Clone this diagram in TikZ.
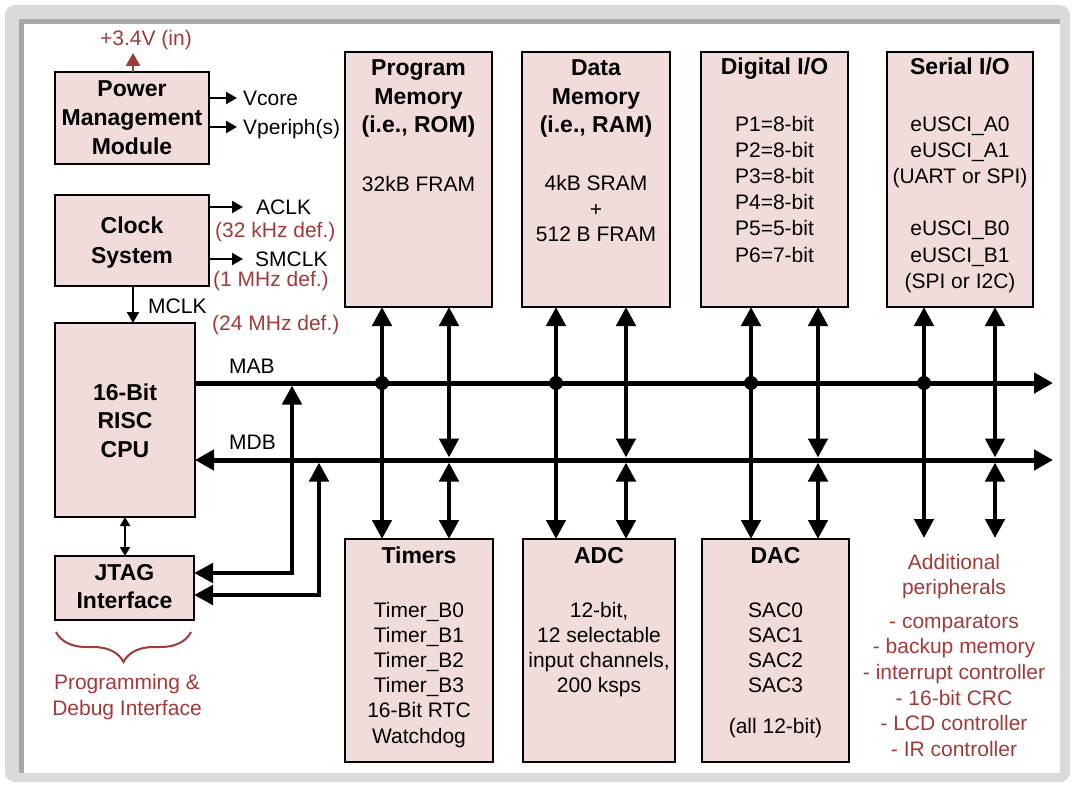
\documentclass[tikz,border=0pt]{standalone}
\usepackage{fontspec}
\setmainfont{Liberation Sans}
\usetikzlibrary{arrows.meta,decorations.pathreplacing}
\definecolor{boxfill}{HTML}{F2DCDB}
\definecolor{redtxt}{HTML}{A33A3A}
\definecolor{framegray}{HTML}{DADADA}
\definecolor{stripegray}{HTML}{A8A8A8}
\newcommand\mkbox[5]{\node[box, minimum width={(#4-#2)*1pt}, minimum height={(#5-#3)*1pt}] (#1) at ({(#2+#4)/2},{(#3+#5)/2}) {};}
\newcommand\mklines[6]{\foreach \ltext [count=\lnum from 0] in {#6} {\node[#5, anchor=base] (#1-\lnum) at (#2,{#3+\lnum*#4}) {\ltext};}}
\begin{document}
\begin{tikzpicture}[x=1pt,y=-1pt,
  box/.style={draw, line width=2.6pt, fill=boxfill, inner sep=0pt, outer sep=0pt},
  ttl/.style={font=\fontsize{23pt}{28pt}\selectfont\bfseries, inner sep=0pt},
  txt/.style={font=\fontsize{21pt}{25pt}\selectfont, inner sep=0pt},
  rtxt/.style={txt, text=redtxt},
  sarr/.style={line width=2.3pt, >={Triangle[length=11pt,width=12pt]}},
  redarr/.style={line width=2.5pt, draw=redtxt, >={Triangle[length=13pt,width=14pt]}},
  tinyarr/.style={line width=1.8pt, >={Triangle[length=9pt,width=10pt]}},
  busarr/.style={line width=4.6pt, >={Triangle[length=19pt,width=19pt]}},
  busline/.style={line width=5pt, >={Triangle[length=19pt,width=20pt]}},
  dot/.style={circle, fill, inner sep=0pt, minimum size=14pt}]
\useasboundingbox (0,0) rectangle (1073,786);
% frame
\fill[framegray, rounded corners=10pt] (5,5) rectangle (1070,782);
\fill[stripegray] (19,19) rectangle (1060,773);
\fill[white] (24,24) rectangle (1060,773);
% boxes
\mkbox{pwr}{55}{72}{209}{164}
\mkbox{clk}{55}{195}{209}{286}
\mkbox{cpu}{55}{323}{195}{517}
\mkbox{jtag}{55}{556}{194}{620}
\mkbox{pmem}{345}{52}{492}{307}
\mkbox{dmem}{522}{52}{670}{307}
\mkbox{dio}{701}{52}{848}{307}
\mkbox{sio}{887}{52}{1033}{307}
\mkbox{timers}{345}{539}{493}{762}
\mkbox{adc}{523}{539}{675}{762}
\mkbox{dac}{702}{539}{849}{762}
% box texts
\mklines{pwrt}{132}{97}{29}{ttl}{Power,Management,Module}
\mklines{clkt}{132}{234}{29.5}{ttl}{Clock,System}
\mklines{cput}{125}{400}{28.5}{ttl}{16-Bit,RISC,CPU}
\mklines{jtagt}{124.5}{580}{28.5}{ttl}{JTAG,Interface}
\mklines{pmemt}{418.5}{76}{28.5}{ttl}{Program,Memory,{(i.e., ROM)}}
\mklines{pmemb}{418.5}{192}{25.5}{txt}{32kB FRAM}
\mklines{dmemt}{596}{76}{28.5}{ttl}{Data,Memory,{(i.e., RAM)}}
\mklines{dmemb}{596}{191}{25.5}{txt}{4kB SRAM,+,512 B FRAM}
\mklines{diot}{774.5}{75}{28.5}{ttl}{Digital I/O}
\mklines{diob}{774.5}{132}{26}{txt}{P1=8-bit,P2=8-bit,P3=8-bit,P4=8-bit,P5=5-bit,P6=7-bit}
\mklines{siot}{960}{75}{28.5}{ttl}{Serial I/O}
\mklines{sioa}{960}{132}{26}{txt}{eUSCI\_A0,eUSCI\_A1,(UART or SPI)}
\mklines{siob}{960}{236}{26}{txt}{eUSCI\_B0,eUSCI\_B1,(SPI or I2C)}
\mklines{timt}{419}{563}{25}{ttl}{Timers}
\mklines{timb}{419}{617}{25.2}{txt}{Timer\_B0,Timer\_B1,Timer\_B2,Timer\_B3,16-Bit RTC,Watchdog}
\mklines{adct}{599}{563}{25}{ttl}{ADC}
\mklines{adcb}{599}{617}{25.3}{txt}{{12-bit,},12 selectable,{input channels,},200 ksps}
\mklines{dact}{775.5}{563}{25}{ttl}{DAC}
\mklines{dacb}{775.5}{617}{25.3}{txt}{SAC0,SAC1,SAC2,SAC3}
\mklines{dacc}{775.5}{733}{25.3}{txt}{(all 12-bit)}
% additional peripherals
\mklines{addt}{954}{569}{25}{rtxt}{Additional,peripherals}
\mklines{addl}{954}{628}{25.7}{rtxt}{- comparators,- backup memory,- interrupt controller,- 16-bit CRC,- LCD controller,- IR controller}
% left labels
\node[rtxt, anchor=base west] (vinl) at (100,46) {+3.4V (in)};
\node[txt, anchor=base west] (vcorel) at (243,106) {Vcore};
\node[txt, anchor=base west] (vperl) at (243,135) {Vperiph(s)};
\node[txt, anchor=base west] (aclkl) at (256,215) {ACLK};
\node[rtxt, anchor=base west] (aclkf) at (215,237.5) {(32 kHz def.)};
\node[txt, anchor=base west] (smclkl) at (255,267) {SMCLK};
\node[rtxt, anchor=base west] (smclkf) at (213,287) {(1 MHz def.)};
\node[txt, anchor=base west] (mclkl) at (148,313) {MCLK};
\node[rtxt, anchor=base west] (mclkf) at (212,330) {(24 MHz def.)};
\node[txt, anchor=base west] (mabl) at (229,373) {MAB};
\node[txt, anchor=base west] (mdbl) at (229,449) {MDB};
\mklines{prog}{127}{689}{26}{rtxt}{Programming \&,Debug Interface}
% small arrows
\coordinate (vin) at (133,53);
\coordinate (vc) at (237,98);
\coordinate (vp) at (237,127);
\coordinate (ac) at (243,207);
\coordinate (sm) at (243,259);
\coordinate (mck) at (133,0);
\draw[redarr,->] (pwr.north -| vin) -- (vin);
\draw[sarr,->] (pwr.east |- vc) -- (vc);
\draw[sarr,->] (pwr.east |- vp) -- (vp);
\draw[sarr,->] (clk.east |- ac) -- (ac);
\draw[sarr,->] (clk.east |- sm) -- (sm);
\draw[sarr,->] (clk.south -| mck) -- (cpu.north -| mck);
\draw[tinyarr,<->] (cpu.south) -- (cpu.south |- jtag.north);
% brace
\coordinate (brL) at (56,632);
\coordinate (brR) at (191,632);
\draw[redtxt, line width=2pt, decorate, decoration={brace, amplitude=30pt}] (brR) -- (brL);
% buses
\coordinate (mab) at (0,383);
\coordinate (mdb) at (0,460);
\coordinate (mabB) at (0,385.5);
\coordinate (mdbT) at (0,457.5);
\coordinate (mdbB) at (0,462.5);
\coordinate (busend1) at (1053,383);
\coordinate (busend2) at (1053,460);
\draw[busline,->] (cpu.east |- mab) -- (busend1);
\draw[busline,<->] (cpu.east |- mdb) -- (busend2);
% columns
\coordinate (c1) at (382,0);
\coordinate (c2) at (449,0);
\coordinate (c3) at (556,0);
\coordinate (c4) at (626,0);
\coordinate (c5) at (751,0);
\coordinate (c6) at (818,0);
\coordinate (c7) at (924,0);
\coordinate (c8) at (995,0);
\coordinate (addtop) at (0,538);
\draw[busarr,<->] (pmem.south -| c1) -- (timers.north -| c1);
\draw[busarr,<->] (pmem.south -| c2) -- (c2 |- mdbT);
\draw[busarr,<->] (c2 |- mdbB) -- (timers.north -| c2);
\draw[busarr,<->] (dmem.south -| c3) -- (adc.north -| c3);
\draw[busarr,<->] (dmem.south -| c4) -- (c4 |- mdbT);
\draw[busarr,<->] (c4 |- mdbB) -- (adc.north -| c4);
\draw[busarr,<->] (dio.south -| c5) -- (dac.north -| c5);
\draw[busarr,<->] (dio.south -| c6) -- (c6 |- mdbT);
\draw[busarr,<->] (c6 |- mdbB) -- (dac.north -| c6);
\draw[busarr,<->] (sio.south -| c7) -- (c7 |- addtop);
\draw[busarr,<->] (sio.south -| c8) -- (c8 |- mdbT);
\draw[busarr,<->] (c8 |- mdbB) -- (c8 |- addtop);
\node[dot] (j1) at (c1 |- mab) {};
\node[dot] (j2) at (c3 |- mab) {};
\node[dot] (j3) at (c5 |- mab) {};
\node[dot] (j4) at (c7 |- mab) {};
% JTAG links
\coordinate (ja) at (292,573);
\coordinate (jb) at (319,595);
\draw[busarr,<->] (jtag.east |- ja) -| (ja |- mabB);
\draw[busarr,<->] (jtag.east |- jb) -| (jb |- mdbB);
\end{tikzpicture}
\end{document}
